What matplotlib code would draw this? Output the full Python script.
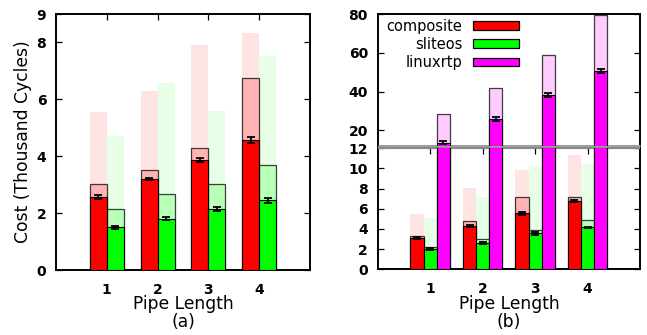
import matplotlib
matplotlib.use("Agg")
import matplotlib.pyplot as plt
import numpy as np

# ---------------- data ----------------
pipe = [1, 2, 3, 4]
series = ["composite", "sliteos", "linuxrtp"]

# panel (a)
a_comp_mean = [2.57, 3.20, 3.86, 4.56]
a_comp_err = [0.06, 0.05, 0.06, 0.10]
a_comp_mid = [3.02, 3.52, 4.28, 6.74]
a_comp_max = [5.57, 6.29, 7.91, 8.33]
a_slit_mean = [1.50, 1.80, 2.13, 2.45]
a_slit_err = [0.05, 0.05, 0.07, 0.08]
a_slit_mid = [2.16, 2.68, 3.01, 3.69]
a_slit_max = [4.71, 6.58, 5.59, 7.52]

# panel (b)
b_comp_mean = [3.10, 4.27, 5.53, 6.77]
b_comp_err = [0.12, 0.10, 0.10, 0.12]
b_comp_mid = [3.30, 4.80, 7.15, 7.15]
b_comp_max = [5.46, 8.06, 9.83, 11.28]
b_slit_mean = [2.03, 2.63, 3.55, 4.15]
b_slit_err = [0.12, 0.12, 0.12, 0.08]
b_slit_mid = [2.23, 2.96, 3.88, 4.87]
b_slit_max = [5.13, 7.17, 10.23, 10.46]
b_linux_mean = [13.5, 26.0, 38.0, 50.6]
b_linux_err = [0.8, 1.0, 1.0, 1.1]
b_linux_mid = [28.2, 41.6, 58.8, 79.3]

a_yticks = [0, 2, 4, 6, 8, 9]
b_low_yticks = [0, 2, 4, 6, 8, 10, 12]
b_up_yticks = [20, 40, 60, 80]

# ---------------- style ----------------
solid = {"composite": "#ff0000", "sliteos": "#00ff00", "linuxrtp": "#ff00ff"}
mid = {"composite": "#ffb3b3", "sliteos": "#b8ffb8", "linuxrtp": "#ffccff"}
faint = {"composite": "#ffe4e4", "sliteos": "#e6ffe6", "linuxrtp": "#ffe5ff"}

W, H = 647, 335
fig = plt.figure(figsize=(W / 100, H / 100), dpi=100)


def rect(x0, y0, x1, y1):
    return [x0 / W, 1 - y1 / H, (x1 - x0) / W, (y1 - y0) / H]


ax_a = fig.add_axes(rect(56, 14, 310, 270))
ax_bu = fig.add_axes(rect(377.7, 14, 640, 145.8))
ax_bl = fig.add_axes(rect(377.7, 148.2, 640, 269.3))


def draw_group(ax, x, name, mean, err, midv, maxv, width):
    if maxv is not None:
        ax.bar(x, maxv, width, color=faint[name], edgecolor="none", zorder=1)
    ax.bar(x, midv, width, color=mid[name], edgecolor=(0, 0, 0, 0.75),
           linewidth=0.9, zorder=2)
    ax.bar(x, mean, width, color=solid[name], edgecolor="black",
           linewidth=0.8, zorder=3, label=name)
    ax.errorbar(x, mean, yerr=err, fmt="none", ecolor="black",
                elinewidth=1.3, capsize=2.6, capthick=1.3, zorder=4)


x = np.array(pipe, dtype=float)

# panel (a)
wa = 1 / 3
draw_group(ax_a, x - wa / 2, "composite", a_comp_mean, a_comp_err, a_comp_mid, a_comp_max, wa)
draw_group(ax_a, x + wa / 2, "sliteos", a_slit_mean, a_slit_err, a_slit_mid, a_slit_max, wa)
ax_a.set_xlim(0, 5)
ax_a.set_ylim(0, 9)
ax_a.set_yticks(a_yticks)
ax_a.set_xticks(pipe)

# panel (b)
wb = 0.25
for ax in (ax_bu, ax_bl):
    draw_group(ax, x - wb, "composite", b_comp_mean, b_comp_err, b_comp_mid, b_comp_max, wb)
    draw_group(ax, x, "sliteos", b_slit_mean, b_slit_err, b_slit_mid, b_slit_max, wb)
    draw_group(ax, x + wb, "linuxrtp", b_linux_mean, b_linux_err, b_linux_mid, None, wb)
    ax.set_xlim(0, 5)
    ax.set_xticks(pipe)
ax_bu.set_ylim(12, 80)
ax_bu.set_yticks(b_up_yticks)
ax_bl.set_ylim(0, 12)
ax_bl.set_yticks(b_low_yticks)

for ax in (ax_a, ax_bu, ax_bl):
    for s in ax.spines.values():
        s.set_linewidth(1.4)
        s.set_color("black")
    ax.tick_params(direction="in", length=4, width=0.9, labelsize=10,
                   left=True, right=True, top=True, bottom=True, pad=7)
    for lab in ax.get_xticklabels() + ax.get_yticklabels():
        lab.set_fontweight("bold")
    ax.tick_params(axis="x", pad=9)

# upper part of broken axis: no x ticks, gray bottom border
ax_bu.tick_params(axis="x", top=False, bottom=False, labelbottom=False)
ax_bu.spines["bottom"].set_color("#a0a0a0")
ax_bu.spines["bottom"].set_linewidth(2.2)
ax_bu.spines["bottom"].set_capstyle("butt")
ax_bl.spines["top"].set_color("#8a8a8a")
ax_bl.spines["top"].set_linewidth(1.6)
ax_bl.spines["top"].set_capstyle("butt")

# labels
ax_a.set_ylabel("Cost (Thousand Cycles)", fontsize=12.3, labelpad=3)
fig.text(183 / W, 1 - 304 / H, "Pipe Length", fontsize=12.3, ha="center", va="center")
fig.text(183 / W, 1 - 322 / H, "(a)", fontsize=12.3, ha="center", va="center")
fig.text(509 / W, 1 - 304 / H, "Pipe Length", fontsize=12.3, ha="center", va="center")
fig.text(509 / W, 1 - 322 / H, "(b)", fontsize=12.3, ha="center", va="center")

# legend
handles, labels = ax_bu.get_legend_handles_labels()
leg = ax_bu.legend(handles, labels, loc="upper left", bbox_to_anchor=(0.0, 1.03),
                   frameon=False, markerfirst=False, fontsize=10.5,
                   handlelength=3.2, handleheight=0.55, handletextpad=0.7,
                   labelspacing=0.22, borderaxespad=0.2)
for t in leg.get_texts():
    t.set_ha("right")
for h in leg.legend_handles:
    h.set_edgecolor("black")
    h.set_linewidth(0.9)

fig.savefig("out.png", dpi=100)
